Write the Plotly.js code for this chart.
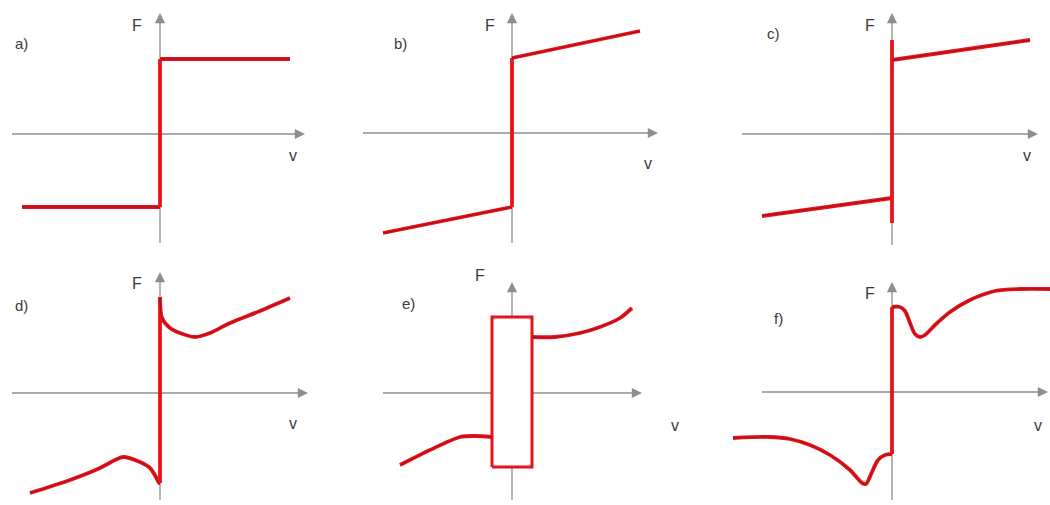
<!DOCTYPE html>
<html>
<head>
<meta charset="utf-8">
<script src="https://cdn.plot.ly/plotly-3.0.1.min.js"></script>
<style>
  html, body { margin: 0; padding: 0; background: #fff; }
  #chart { width: 1050px; height: 505px; }
</style>
</head>
<body>
<div id="chart"></div>
<script>
// Friction force F versus sliding velocity v: six classic friction models.
// Values are in normalised units (v and F), origin at the axis crossing.

// a) Coulomb friction
const aLowV = [-1.38, 0], aLowF = [-0.73, -0.73];
const aJumpV = [0, 0], aJumpF = [-0.73, 0.75];
const aUpV = [0, 1.30], aUpF = [0.75, 0.75];

// b) Coulomb + viscous friction
const bLowV = [-1.29, 0], bLowF = [-1.00, -0.74];
const bJumpV = [0, 0], bJumpF = [-0.74, 0.75];
const bUpV = [0, 1.28], bUpF = [0.75, 1.02];

// c) Coulomb + viscous + static friction
const cLowV = [-1.30, 0], cLowF = [-0.82, -0.64];
const cJumpV = [0, 0], cJumpF = [-0.89, 0.94];
const cUpV = [0, 1.38], cUpF = [0.74, 0.94];

// d) Stribeck effect
const dLowV = [-1.30, -0.90, -0.60, -0.45, -0.37, -0.20, -0.10, -0.04, -0.01, 0];
const dLowF = [-1.00, -0.87, -0.75, -0.67, -0.64, -0.69, -0.75, -0.84, -0.90, -0.90];
const dJumpV = [0, 0], dJumpF = [-0.90, 0.96];
const dUpV = [0, 0.02, 0.10, 0.20, 0.35, 0.50, 0.70, 1.00, 1.30];
const dUpF = [0.96, 0.75, 0.65, 0.60, 0.56, 0.60, 0.70, 0.82, 0.95];

// e) Karnopp model: stick band around v = 0
const eBoxV = [-0.20, 0.20, 0.20, -0.20, -0.20];
const eBoxF = [-0.74, -0.74, 0.76, 0.76, -0.74];
const eLowV = [-1.12, -0.82, -0.52, -0.37, -0.20];
const eLowF = [-0.72, -0.57, -0.44, -0.43, -0.44];
const eUpV = [0.20, 0.43, 0.68, 0.88, 1.08, 1.20];
const eUpF = [0.56, 0.56, 0.60, 0.66, 0.75, 0.85];

// f) Armstrong-type model with frictional memory
const fLowV = [-1.59, -1.22, -1.02, -0.82, -0.62, -0.42, -0.30, -0.26, -0.20, -0.14, -0.07, 0];
const fLowF = [-0.46, -0.45, -0.47, -0.53, -0.63, -0.78, -0.91, -0.92, -0.80, -0.68, -0.63, -0.62];
const fJumpV = [0, 0], fJumpF = [-0.62, 0.85];
const fUpV = [0, 0.08, 0.13, 0.18, 0.23, 0.28, 0.33, 0.43, 0.58, 0.78, 1.03, 1.28, 1.58];
const fUpF = [0.85, 0.85, 0.81, 0.69, 0.58, 0.55, 0.57, 0.67, 0.80, 0.92, 1.01, 1.03, 1.03];

const panelLabels = ['a)', 'b)', 'c)', 'd)', 'e)', 'f)'];
const axisLabelF = 'F';
const axisLabelV = 'v';

// Layout of the six panels (pixel cell, origin pixel, axis extents, text positions)
const W = 1050, H = 505, S = 100; // S: pixels per unit
const panels = [
  { cell: [0, 350, 0, 253],    ox: 160, oy: 134, h: [-1.48, 1.45], vv: [-1.09, 1.21], lab: [-1.39, 0.91], fl: [-0.23, 1.09], vl: [1.33, -0.21],
    segs: [[aLowV, aLowF, 'core'], [aJumpV, aJumpF, ''], [aUpV, aUpF, 'core']] },
  { cell: [350, 700, 0, 253],  ox: 512, oy: 133, h: [-1.49, 1.46], vv: [-1.10, 1.20], lab: [-1.12, 0.90], fl: [-0.22, 1.08], vl: [1.36, -0.30],
    segs: [[bLowV, bLowF, 'core'], [bJumpV, bJumpF, ''], [bUpV, bUpF, 'core']] },
  { cell: [700, 1050, 0, 253], ox: 892, oy: 134, h: [-1.50, 1.46], vv: [-1.11, 1.21], lab: [-1.19, 1.01], fl: [-0.22, 1.09], vl: [1.35, -0.21],
    segs: [[cLowV, cLowF, 'core'], [cJumpV, cJumpF, ''], [cUpV, cUpF, 'core']] },
  { cell: [0, 350, 253, 505],  ox: 160, oy: 393, h: [-1.48, 1.48], vv: [-1.07, 1.21], lab: [-1.39, 0.88], fl: [-0.23, 1.10], vl: [1.33, -0.30],
    segs: [[dLowV, dLowF, 'core smooth'], [dJumpV, dJumpF, ''], [dUpV, dUpF, 'core smooth']] },
  { cell: [350, 700, 253, 505], ox: 512, oy: 393, h: [-1.29, 1.30], vv: [-1.07, 1.11], lab: [-1.04, 0.90], fl: [-0.32, 1.18], vl: [1.63, -0.32],
    segs: [[eBoxV, eBoxF, 'box'], [eLowV, eLowF, 'core smooth'], [eUpV, eUpF, 'core smooth']] },
  { cell: [700, 1050, 253, 505], ox: 892, oy: 392, h: [-1.30, 1.56], vv: [-1.08, 1.10], lab: [-1.14, 0.74], fl: [-0.22, 0.99], vl: [1.46, -0.33],
    segs: [[fLowV, fLowF, 'core smooth'], [fJumpV, fJumpF, ''], [fUpV, fUpF, 'core smooth']] }
];

const RED = '#e8131b';
const GREY = '#8e8e8e';
const TEXT = '#3a3a3a';
const FONT = 'Liberation Sans, Arial, sans-serif';

const traces = [];
const shapes = [];
const annotations = [];
const layout = {
  width: W, height: H,
  margin: { l: 0, r: 0, t: 0, b: 0 },
  paper_bgcolor: '#fff', plot_bgcolor: 'rgba(0,0,0,0)',
  showlegend: false,
  shapes: shapes, annotations: annotations
};

panels.forEach((p, i) => {
  const n = i === 0 ? '' : String(i + 1);
  const xa = 'x' + n, ya = 'y' + n;
  const [c0, c1, r0, r1] = p.cell;
  const hidden = { visible: false, showgrid: false, zeroline: false, fixedrange: true };
  layout['xaxis' + n] = Object.assign({}, hidden, {
    domain: [c0 / W, c1 / W], range: [(c0 - p.ox) / S, (c1 - p.ox) / S], anchor: ya
  });
  layout['yaxis' + n] = Object.assign({}, hidden, {
    domain: [1 - r1 / H, 1 - r0 / H], range: [(p.oy - r1) / S, (p.oy - r0) / S], anchor: xa
  });

  // axis lines (under the curves) and their arrow tips
  const axLine = { type: 'line', xref: xa, yref: ya, layer: 'below', line: { color: GREY, width: 1.3 } };
  shapes.push(Object.assign({}, axLine, { x0: p.h[0], x1: p.h[1] - 0.04, y0: 0, y1: 0 }));
  shapes.push(Object.assign({}, axLine, { x0: 0, x1: 0, y0: p.vv[0], y1: p.vv[1] - 0.04 }));
  const tip = { xref: xa, yref: ya, axref: xa, ayref: ya, text: '', showarrow: true,
    arrowhead: 2, arrowsize: 1.7, arrowwidth: 1.2, arrowcolor: GREY, standoff: 0 };
  annotations.push(Object.assign({}, tip, { x: p.h[1], y: 0, ax: p.h[1] - 0.12, ay: 0 }));
  annotations.push(Object.assign({}, tip, { x: 0, y: p.vv[1], ax: 0, ay: p.vv[1] - 0.12 }));

  // text labels
  const txt = (x, y, t, size) => ({ xref: xa, yref: ya, x: x, y: y, text: t, showarrow: false,
    font: { family: FONT, size: size, color: TEXT }, xanchor: 'center', yanchor: 'middle' });
  annotations.push(txt(p.lab[0], p.lab[1], panelLabels[i], 15));
  annotations.push(txt(p.fl[0], p.fl[1], axisLabelF, 16));
  annotations.push(txt(p.vl[0], p.vl[1], axisLabelV, 16));

  // friction curves
  p.segs.forEach(([v, F, kind]) => {
    const smooth = kind.includes('smooth');
    const shape = smooth ? 'spline' : 'linear';
    const isBox = kind.includes('box');
    const tr = {
      type: 'scatter', mode: 'lines', x: v, y: F, xaxis: xa, yaxis: ya, hoverinfo: 'skip',
      line: { color: RED, width: isBox ? 3 : 3.8, shape: shape, smoothing: 0.8 }
    };
    if (isBox) { tr.fill = 'toself'; tr.fillcolor = '#ffffff'; }
    traces.push(tr);
    if (kind.includes('core')) {
      traces.push({
        type: 'scatter', mode: 'lines', x: v, y: F, xaxis: xa, yaxis: ya, hoverinfo: 'skip',
        line: { color: 'rgba(70,10,20,0.45)', width: 1, shape: shape, smoothing: 0.8 }
      });
    }
  });
});

Plotly.newPlot('chart', traces, layout, { staticPlot: true, displayModeBar: false });
</script>
</body>
</html>
